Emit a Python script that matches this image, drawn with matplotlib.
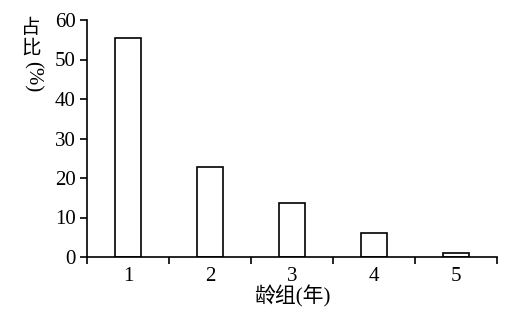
import matplotlib
matplotlib.use("Agg")
import matplotlib.pyplot as plt
import numpy as np

# Age groups and their share of the sample
age_groups = ["1", "2", "3", "4", "5"]
share_pct = [55.4, 22.9, 13.7, 6.2, 0.9]
y_ticks = [0, 10, 20, 30, 40, 50, 60]

plt.rcParams["font.family"] = ["Liberation Serif", "Noto Sans CJK SC"]

W, H = 507, 317
fig = plt.figure(figsize=(W / 100, H / 100), dpi=100)
ax = fig.add_axes([87 / W, 1 - 257 / H, 410 / W, 237 / H])

centers = np.arange(len(age_groups)) + 0.5
ax.bar(centers, share_pct, width=0.31, facecolor="white",
       edgecolor="black", linewidth=1.2)

ax.set_xlim(0, len(age_groups))
ax.set_ylim(0, 60)
ax.set_yticks(y_ticks)
ax.set_yticklabels([str(v) for v in y_ticks], fontsize=15)

# group boundaries carry the tick marks, labels sit at the group centres
ax.set_xticks(np.arange(len(age_groups) + 1))
ax.set_xticklabels([])
ax.set_xticks(centers, minor=True)
ax.set_xticklabels(age_groups, minor=True, fontsize=15)
ax.tick_params(axis="x", which="minor", length=0, pad=7)
ax.tick_params(axis="x", which="major", length=5, width=1.2, direction="out")
ax.tick_params(axis="y", length=5, width=1.2, direction="out", pad=3)

for side in ("top", "right"):
    ax.spines[side].set_visible(False)
for side in ("left", "bottom"):
    ax.spines[side].set_linewidth(1.2)

ax.set_xlabel("龄组(年)", fontsize=15, labelpad=0)

# vertical y-axis title: Chinese characters upright, unit turned sideways
label_x = 31 / W
fig.text(label_x, 1 - 28 / H, "占", fontsize=14, ha="center", va="center")
fig.text(label_x, 1 - 49 / H, "比", fontsize=14, ha="center", va="center")
fig.text(label_x + 1 / W, 1 - 77 / H, "(%)", fontsize=15, rotation=270,
         ha="center", va="center")

fig.savefig("out.png", dpi=100)
